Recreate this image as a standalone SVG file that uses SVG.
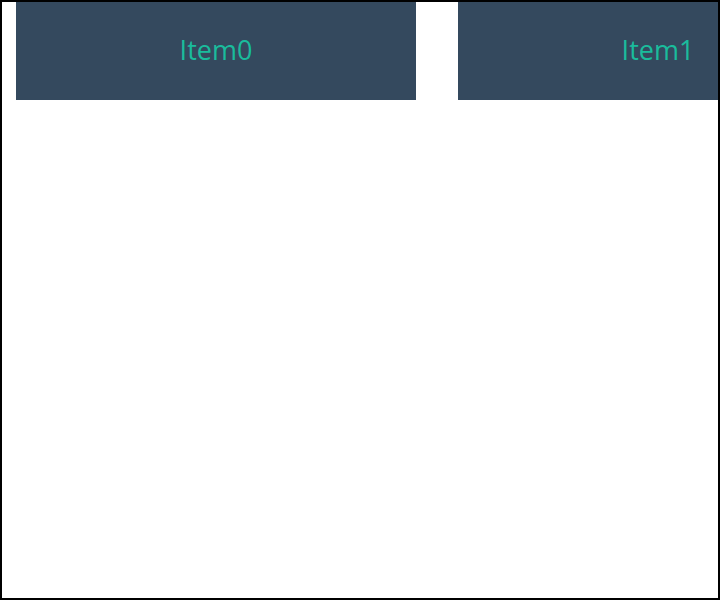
<svg xmlns="http://www.w3.org/2000/svg" width="720" height="600" viewBox="0 0 720 600">
<style>
.box{fill:#34495e}
.lbl{fill:#1abc9c;font-family:"Open Sans","Noto Sans",sans-serif;font-size:27px;text-anchor:middle}
</style>
<rect x="0" y="0" width="720" height="600" fill="#ffffff"/>
<g id="connectors"></g>
<g id="item0">
<rect class="box" x="16" y="0" width="400" height="100"/>
<text class="lbl" x="216" y="60">Item0</text>
</g>
<g id="item1">
<rect class="box" x="458" y="0" width="400" height="100"/>
<text class="lbl" x="658" y="60">Item1</text>
</g>
<rect x="1" y="1" width="718" height="598" fill="none" stroke="#000000" stroke-width="2"/>
</svg>
